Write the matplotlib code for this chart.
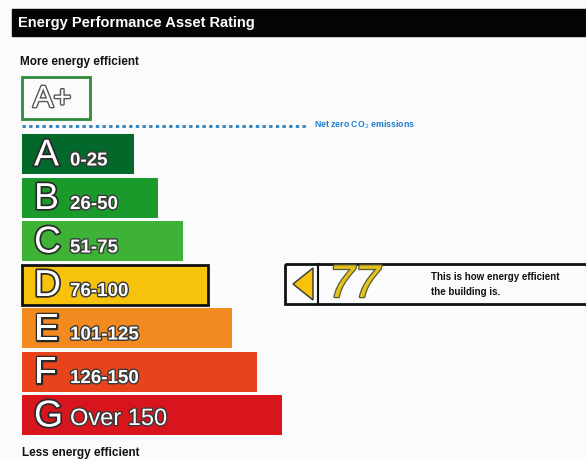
import matplotlib
matplotlib.use("Agg")
import matplotlib.pyplot as plt
import matplotlib.patheffects as pe
from matplotlib.patches import Rectangle, Polygon

# ---- data ----
title = "Energy Performance Asset Rating"
top_label = "More energy efficient"
bottom_label = "Less energy efficient"
net_zero_label = "Net zero CO$_2$ emissions"
bands = ["A", "B", "C", "D", "E", "F", "G"]
band_ranges = ["0-25", "26-50", "51-75", "76-100", "101-125", "126-150", "Over 150"]
band_upper = [25, 50, 75, 100, 125, 150, 175]
band_colors = ["#03692b", "#1b9a2c", "#3db236", "#f6c20c", "#f28a1f", "#e8431b", "#d8151c"]
rating = 77
rating_text = ["This is how energy efficient", "the building is."]

plt.rcParams['font.family'] = ['Liberation Sans', 'DejaVu Sans']

fig = plt.figure(figsize=(5.86, 4.61), dpi=100)
ax = fig.add_axes([0, 0, 1, 1])
ax.set_xlim(0, 586)
ax.set_ylim(461, 0)
ax.axis('off')
fig.patch.set_facecolor('#fbfbfb')

# header
ax.add_patch(Rectangle((12, 9), 580, 27, color='#050505'))
ax.text(18, 23, title, color='white', fontsize=10.5, fontweight='bold', va='center')

ax.text(20, 62, top_label, color='#111111', fontsize=8.5, fontweight='bold', va='center')
ax.text(22, 453, bottom_label, color='#111111', fontsize=8.5, fontweight='bold', va='center')

# A+ box
ax.add_patch(Rectangle((22, 77), 68, 42, fill=False, edgecolor='#2f8a3a', lw=2))
ax.text(33, 99, "A+", color='white', fontsize=22, va='center',
        path_effects=[pe.withStroke(linewidth=2, foreground='#555555')])

# net zero dotted line
ax.plot([22, 308], [126, 126], color='#2a7fc0', lw=2, ls=(0, (1.2, 1.2)))
ax.text(314, 125, net_zero_label, color='#1a7ed0', fontsize=6.3, fontweight='bold', va='center')

# bands
bar_h = 40
top0 = 134
gap = 43.5
x0 = 22
outline = [pe.withStroke(linewidth=2.5, foreground='#2a2a2a')]
cur = 0
for i, up in enumerate(band_upper):
    if rating <= up:
        cur = i
        break
for i, (b, r, up, c) in enumerate(zip(bands, band_ranges, band_upper, band_colors)):
    y = top0 + i * gap
    w = 87 + up * 0.987
    ax.barh(y + bar_h / 2, w, height=bar_h, left=x0, color=c,
            edgecolor='#111111' if i == cur else c, linewidth=2 if i == cur else 0)
    ax.text(34, y + bar_h / 2 + 1.5, b, color='white', fontsize=27, va='center',
            path_effects=outline)
    if i == 6:
        ax.text(70, y + bar_h / 2 + 4, r, color='white', fontsize=17, va='center',
                path_effects=[pe.withStroke(linewidth=2, foreground='#3a3a3a')])
    else:
        ax.text(70, y + bar_h / 2 + 7, r, color='white', fontsize=13.5, va='center',
                fontweight='bold',
                path_effects=[pe.withStroke(linewidth=2, foreground='#3a3a3a')])

# rating indicator
ax.add_patch(Rectangle((285, 264), 310, 40, fill=False, edgecolor='#111111', lw=2))
ax.plot([318, 318], [264, 304], color='#111111', lw=1.5)
ax.add_patch(Polygon([[293, 284], [313, 268], [313, 300]], closed=True,
                     facecolor=band_colors[cur], edgecolor='#333333', lw=1))
ax.text(329, 285, str(rating), color='#e3c21a', fontsize=33, va='center',
        style='italic', path_effects=[pe.withStroke(linewidth=1.8, foreground='#5a5a3a')])
ax.text(431, 277, rating_text[0], color='#111111', fontsize=7, fontweight='bold', va='center')
ax.text(431, 292, rating_text[1], color='#111111', fontsize=7, fontweight='bold', va='center')

fig.savefig("out.png", dpi=100, facecolor=fig.get_facecolor())
